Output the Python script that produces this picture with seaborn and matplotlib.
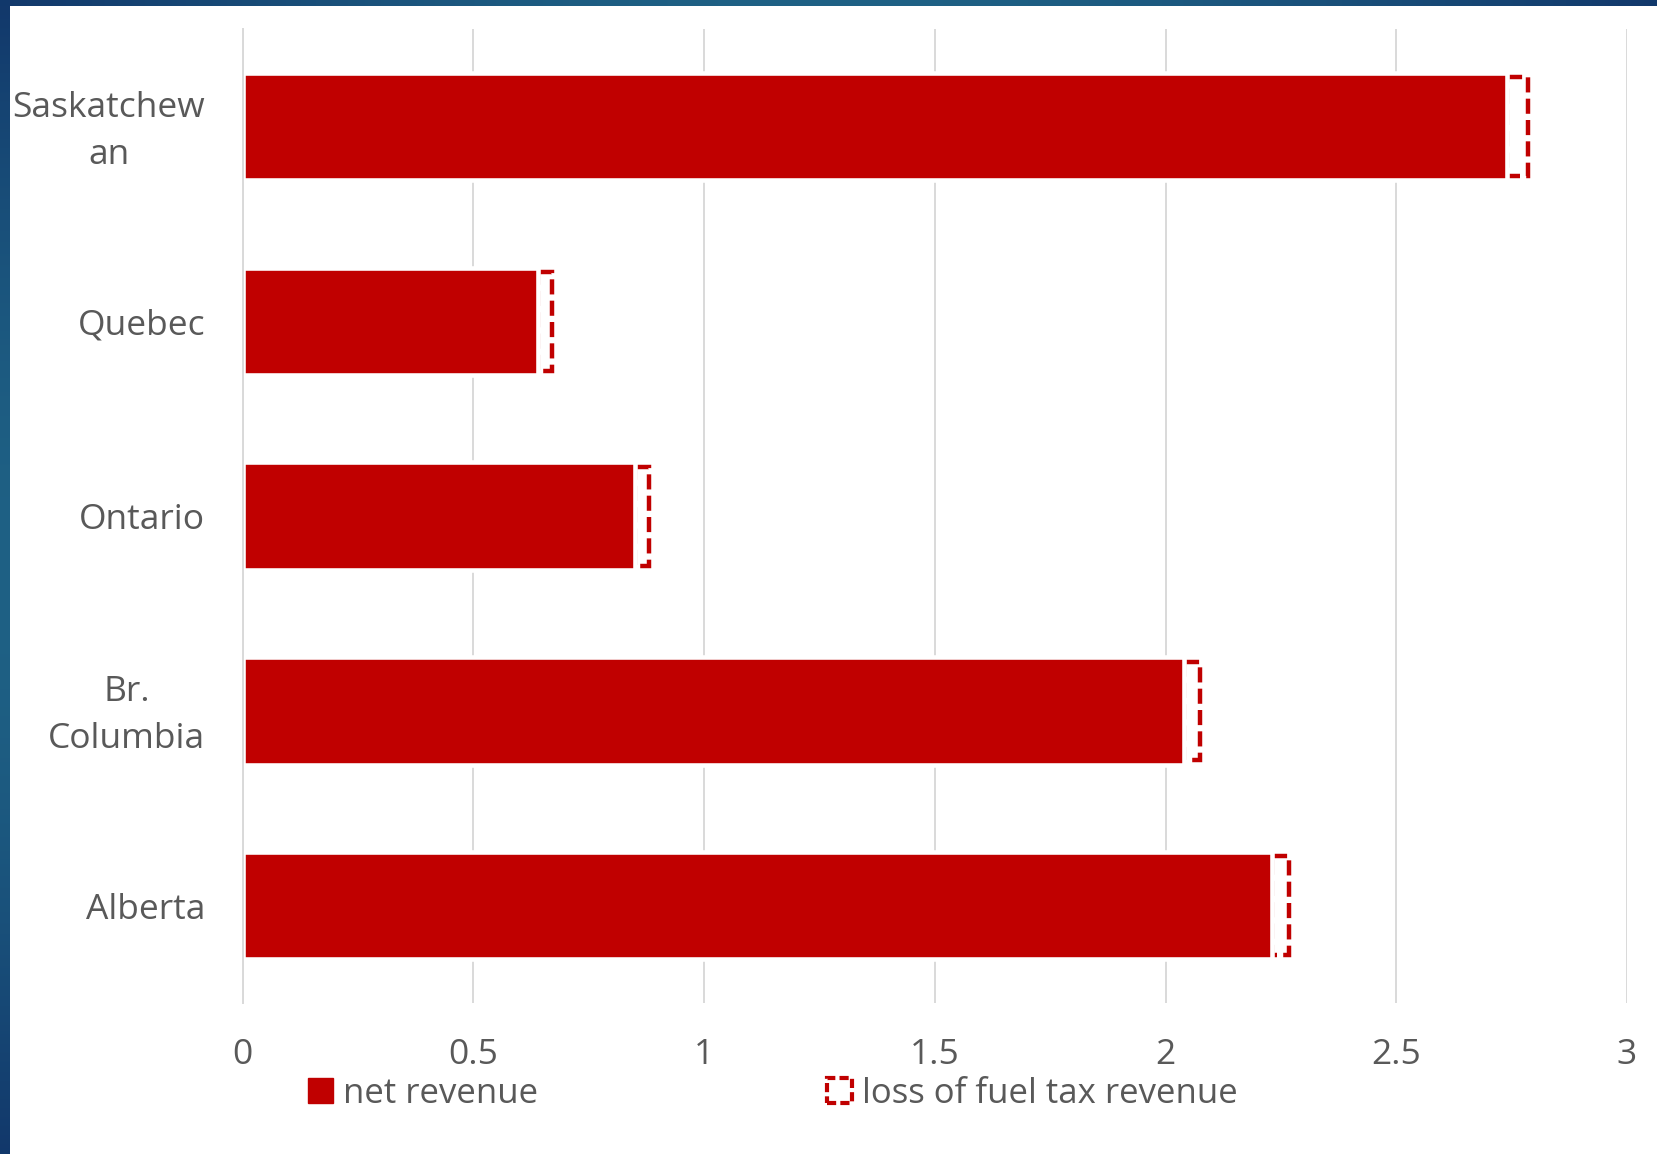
import numpy as np
import pandas as pd
import matplotlib
matplotlib.use("Agg")
import matplotlib.pyplot as plt
import matplotlib.transforms as mtransforms
from matplotlib.patches import Patch, Rectangle
import seaborn as sns

# Provincial carbon-tax revenue (billions), net of the fuel tax revenue lost
provinces = ["Saskatchew\nan", "Quebec", "Ontario", "Br.\nColumbia", "Alberta"]
net_revenue = [2.74, 0.64, 0.85, 2.04, 2.23]
fuel_tax_loss = [0.045, 0.03, 0.03, 0.035, 0.037]
x_ticks = [0, 0.5, 1, 1.5, 2, 2.5, 3]
x_tick_labels = ["0", "0.5", "1", "1.5", "2", "2.5", "3"]
legend_labels = ["net revenue", "loss of fuel tax revenue"]

RED = "#C00000"
TEXT = "#595959"
GRID = "#D9D9D9"
FS = 25.5

sns.set_theme(style="white")
plt.rcParams["font.family"] = ["Open Sans", "DejaVu Sans"]

W, H = 1658, 1154
fig = plt.figure(figsize=(W / 100, H / 100), dpi=100)
fig.patch.set_facecolor("white")

# Blue gradient frame along the left and top edges
bg = fig.add_axes([0, 0, 1, 1], zorder=-10)
u = np.linspace(0, 1, 300)[None, :]
v = np.linspace(0, 1, 300)[:, None]
f = np.sin(np.pi * np.maximum(u, v))
dark = np.array([0.07, 0.22, 0.42])
light = np.array([0.12, 0.38, 0.52])
img = dark[None, None, :] * (1 - f[..., None]) + light[None, None, :] * f[..., None]
bg.imshow(img, extent=[0, 1, 0, 1], aspect="auto", origin="upper", interpolation="bilinear")
bg.add_patch(Rectangle((10 / W, 0), 1, 1 - 6 / H, facecolor="white", edgecolor="none"))
bg.set_xlim(0, 1)
bg.set_ylim(0, 1)
bg.axis("off")

ax = fig.add_axes([242.7 / W, 1 - 1003 / H, (1627 - 242.7) / W, (1003 - 29.3) / H])
ax.set_facecolor("none")

df = pd.DataFrame({"province": provinces, "net": net_revenue, "loss": fuel_tax_loss})

bar_h = 0.552
loss_h = 0.507
# Dashed outline segments stacked after the net revenue
ax.barh(np.arange(len(provinces)), df["loss"], left=df["net"], height=loss_h,
        fill=False, edgecolor=RED, linewidth=3.2, linestyle=(0, (3.4, 1.4)),
        zorder=1.5)
sns.barplot(data=df, y="province", x="net", orient="h", color=RED, saturation=1,
            width=bar_h, edgecolor="white", linewidth=3.3, ax=ax, zorder=2)

ax.set_xlim(0, 3)
ax.set_ylim(len(provinces) - 0.5, -0.5)
ax.set_xticks(x_ticks)
ax.set_xticklabels(x_tick_labels)
ax.set_xlabel("")
ax.set_ylabel("")
ax.grid(axis="x", color=GRID, linewidth=1.4)
ax.grid(axis="y", visible=False)
ax.set_axisbelow(True)
for side in ["top", "right", "bottom"]:
    ax.spines[side].set_visible(False)
ax.spines["left"].set_color(GRID)
ax.spines["left"].set_linewidth(1.4)
ax.spines["left"].set_zorder(3)

ax.tick_params(axis="y", length=0, pad=27, labelsize=FS, labelcolor=TEXT)
ax.tick_params(axis="x", length=0, pad=25, labelsize=FS, labelcolor=TEXT)
lift = mtransforms.ScaledTranslation(0, 6 / 100, fig.dpi_scale_trans)
for t in ax.get_yticklabels():
    t.set_multialignment("center")
    t.set_linespacing(1.5)
    if "\n" in t.get_text():
        t.set_transform(t.get_transform() + lift)

h1 = Patch(facecolor=RED, edgecolor=RED, linewidth=1)
h2 = Patch(facecolor="none", edgecolor=RED, linewidth=3.0, linestyle=(0, (2.2, 1)))
leg_kw = dict(loc="center left", frameon=False, fontsize=25, labelcolor=TEXT,
              handlelength=0.72, handleheight=0.72, handletextpad=0.3,
              borderpad=0, borderaxespad=0)
fig.legend([h1], [legend_labels[0]], bbox_to_anchor=(307.7 / W, 1 - 1094 / H), **leg_kw)
fig.legend([h2], [legend_labels[1]], bbox_to_anchor=(827 / W, 1 - 1094 / H), **leg_kw)

fig.savefig("out.png", dpi=100)
